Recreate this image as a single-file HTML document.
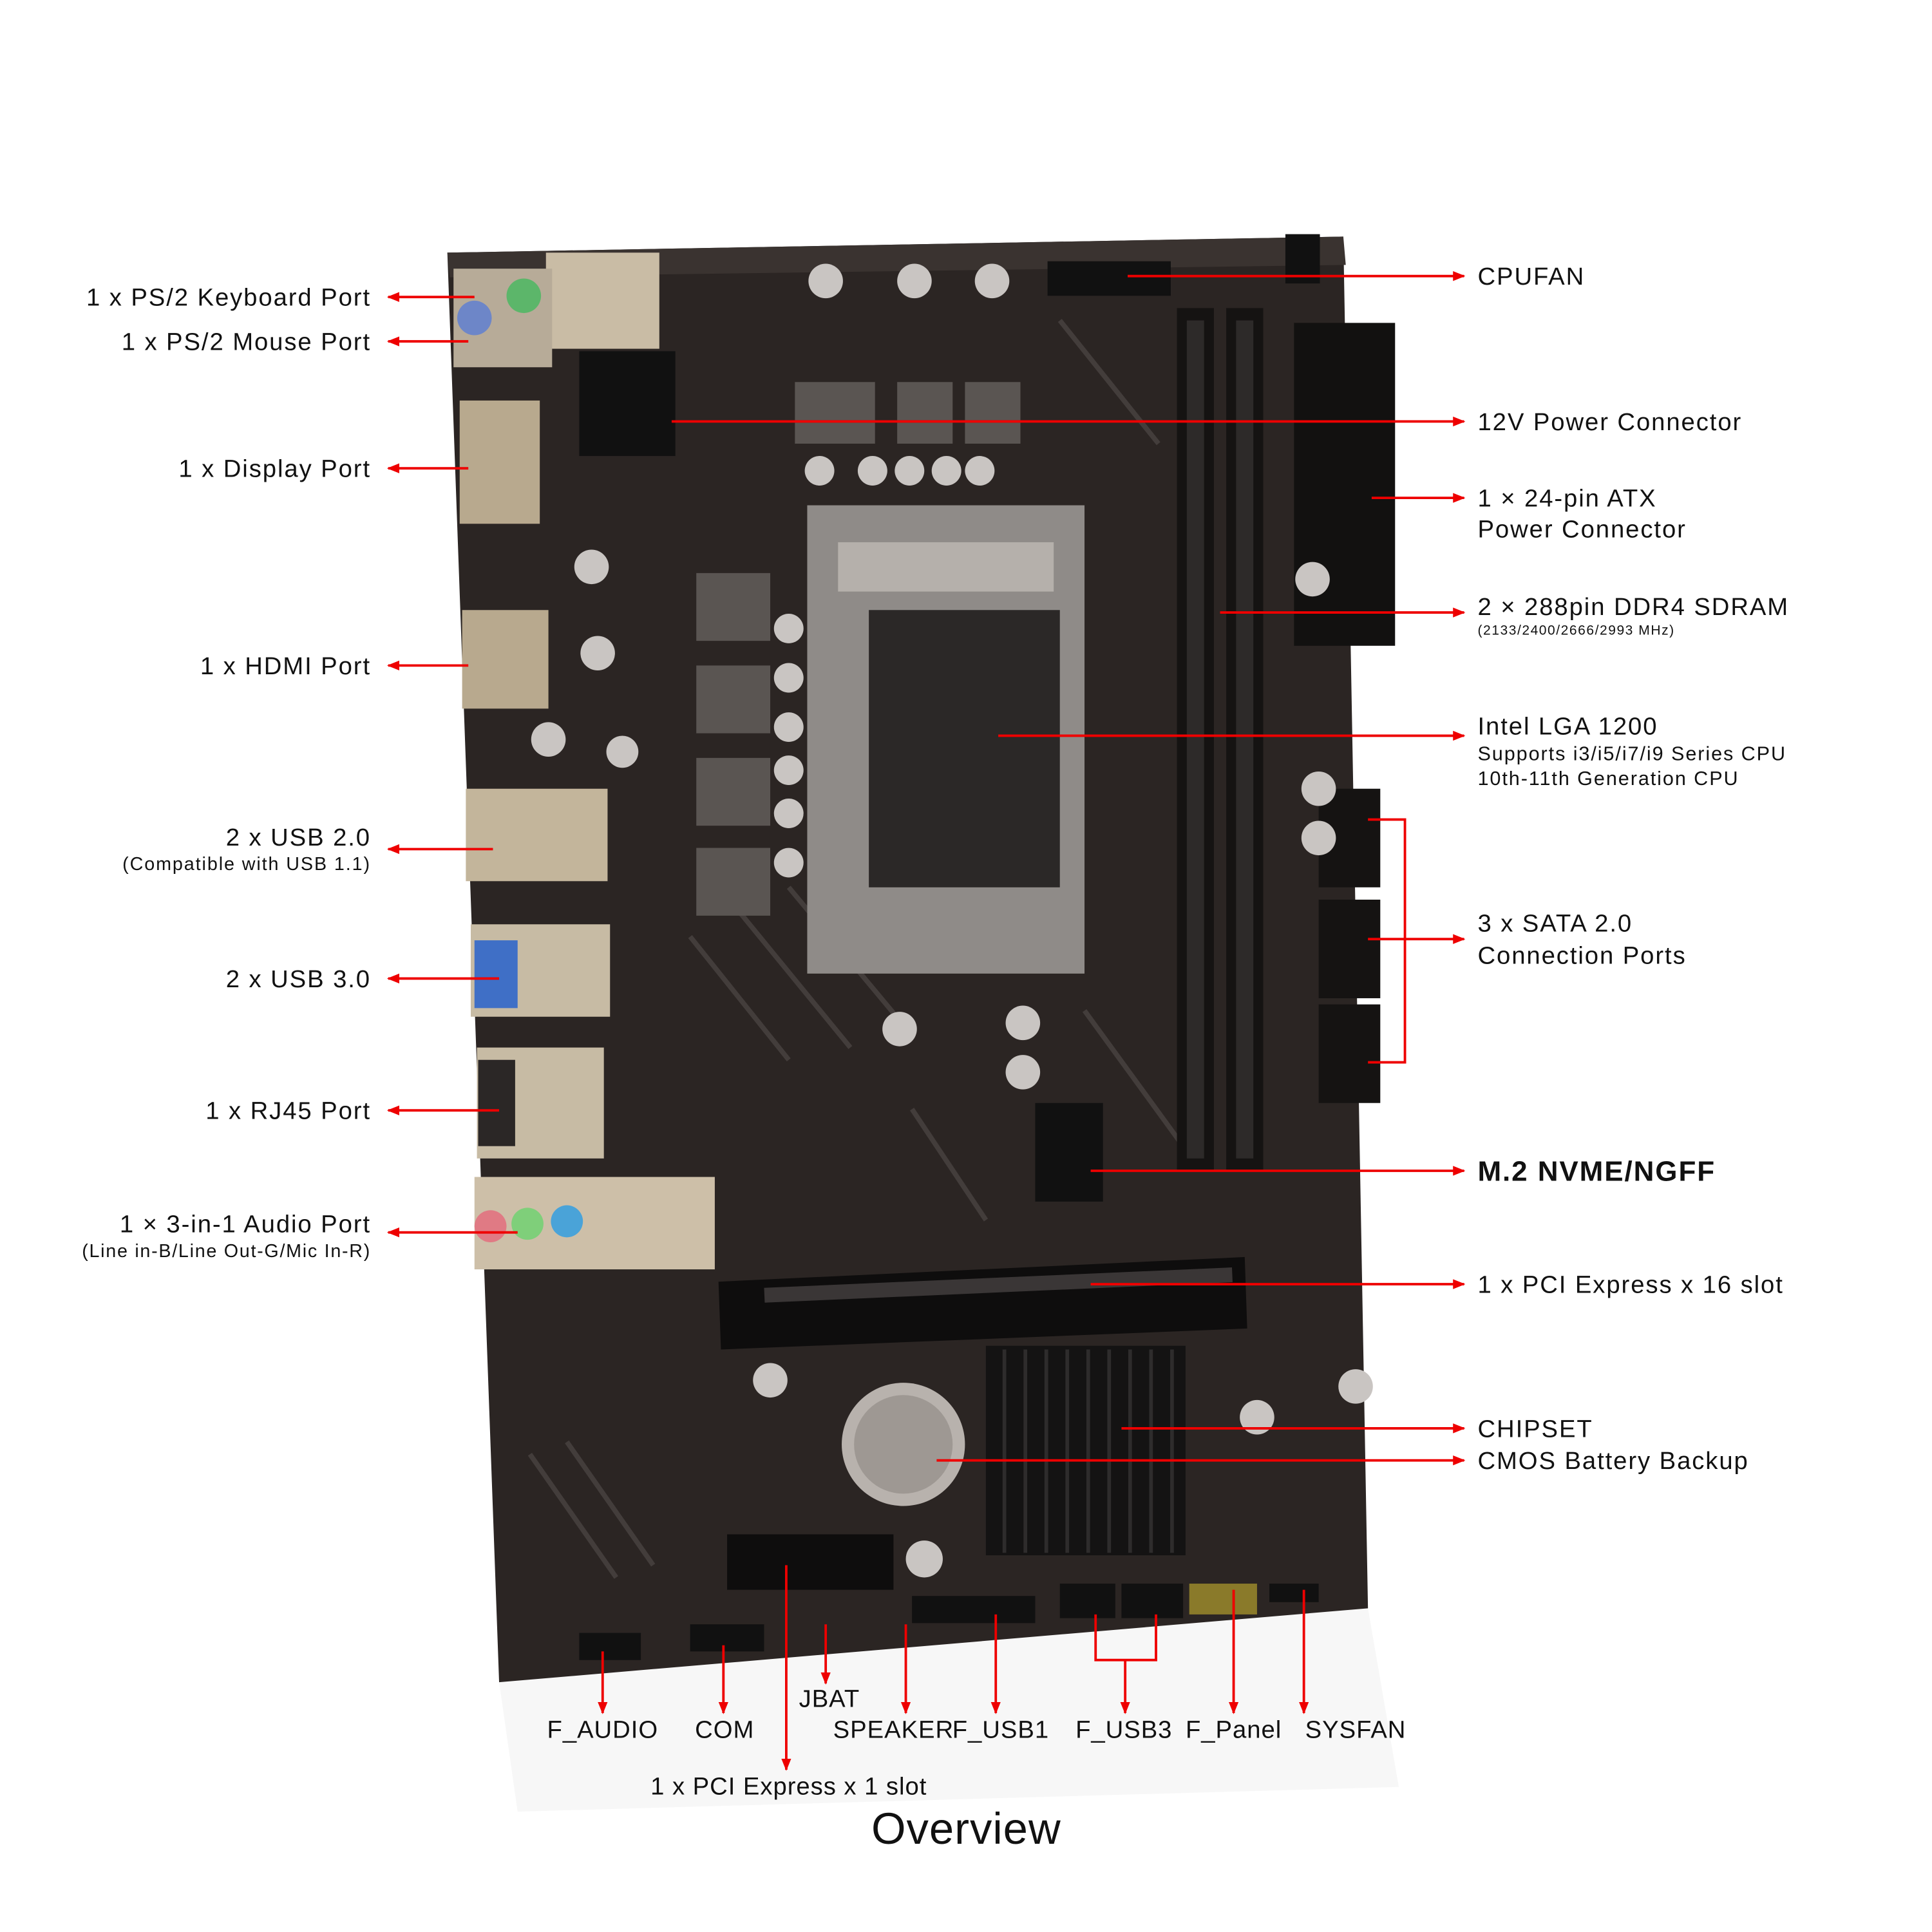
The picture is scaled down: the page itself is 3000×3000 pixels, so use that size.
<!DOCTYPE html>
<html><head><meta charset="utf-8">
<style>
html,body{margin:0;padding:0;background:#fff;}
svg{display:block;}
text{font-family:"Liberation Sans",sans-serif;fill:#111;letter-spacing:1px;}
.bt text{letter-spacing:0.5px;}
</style></head>
<body>
<svg width="3000" height="3000" viewBox="0 0 1552 1552" xmlns="http://www.w3.org/2000/svg">
<defs>
<marker id="b" viewBox="0 0 10 10" refX="9" refY="5" markerWidth="10" markerHeight="10" orient="auto" markerUnits="userSpaceOnUse">
<path d="M0,1 L10,5 L0,9 z" fill="#e00"/></marker>
</defs>
<rect width="1552" height="1552" fill="#fff"/>
<g transform="scale(0.99)">
<polygon points="405,1365 1110,1305 1135,1450 420,1470" fill="#f7f7f7"/>
<polygon points="363,205 1090,192 1110,1305 405,1365" fill="#2b2523"/>
<polygon points="363,205 1090,192 1092,215 365,225" fill="#3a3330"/>
<g stroke="#4a4442" stroke-width="4" opacity="0.8">
<line x1="560" y1="760" x2="640" y2="860"/><line x1="600" y1="740" x2="690" y2="850"/><line x1="640" y1="720" x2="740" y2="840"/>
<line x1="880" y1="820" x2="960" y2="930"/><line x1="860" y1="260" x2="940" y2="360"/>
<line x1="430" y1="1180" x2="500" y2="1280"/><line x1="460" y1="1170" x2="530" y2="1270"/>
<line x1="740" y1="900" x2="800" y2="990"/>
</g>
<rect x="955" y="250" width="30" height="700" fill="#151312"/>
<rect x="995" y="250" width="30" height="700" fill="#151312"/>
<rect x="963" y="260" width="14" height="680" fill="#2d2a29"/>
<rect x="1003" y="260" width="14" height="680" fill="#2d2a29"/>
<rect x="1050" y="262" width="82" height="262" fill="#121110"/>
<rect x="1070" y="640" width="50" height="80" fill="#151312"/>
<rect x="1070" y="730" width="50" height="80" fill="#151312"/>
<rect x="1070" y="815" width="50" height="80" fill="#151312"/>
<rect x="655" y="410" width="225" height="380" fill="#8f8b88"/>
<rect x="705" y="495" width="155" height="225" fill="#2b2827"/>
<rect x="680" y="440" width="175" height="40" fill="#b5b0ab"/>
<g fill="#5a5552">
<rect x="645" y="310" width="65" height="50"/><rect x="728" y="310" width="45" height="50"/><rect x="783" y="310" width="45" height="50"/>
<rect x="565" y="465" width="60" height="55"/><rect x="565" y="540" width="60" height="55"/><rect x="565" y="615" width="60" height="55"/><rect x="565" y="688" width="60" height="55"/>
</g>
<g fill="#c9c5c2">
<circle cx="670" cy="228" r="14"/><circle cx="742" cy="228" r="14"/><circle cx="805" cy="228" r="14"/>
<circle cx="665" cy="382" r="12"/><circle cx="708" cy="382" r="12"/><circle cx="738" cy="382" r="12"/><circle cx="768" cy="382" r="12"/><circle cx="795" cy="382" r="12"/>
<circle cx="640" cy="510" r="12"/><circle cx="640" cy="550" r="12"/><circle cx="640" cy="590" r="12"/><circle cx="640" cy="625" r="12"/><circle cx="640" cy="660" r="12"/><circle cx="640" cy="700" r="12"/>
<circle cx="480" cy="460" r="14"/><circle cx="485" cy="530" r="14"/><circle cx="445" cy="600" r="14"/><circle cx="505" cy="610" r="13"/>
<circle cx="730" cy="835" r="14"/><circle cx="830" cy="830" r="14"/><circle cx="830" cy="870" r="14"/>
<circle cx="1065" cy="470" r="14"/><circle cx="1070" cy="640" r="14"/><circle cx="1070" cy="680" r="14"/>
<circle cx="625" cy="1120" r="14"/><circle cx="750" cy="1265" r="15"/><circle cx="1100" cy="1125" r="14"/><circle cx="1020" cy="1150" r="14"/>
</g>
<polygon points="583,1040 1010,1020 1012,1078 585,1095" fill="#0e0d0d"/>
<rect x="620" y="1045" width="380" height="12" fill="#3a3636" transform="rotate(-2.5 620 1045)"/>
<rect x="590" y="1245" width="135" height="45" fill="#0e0d0d"/>
<rect x="800" y="1092" width="162" height="170" fill="#141313"/>
<g stroke="#2e2c2c" stroke-width="3">
<line x1="815" y1="1095" x2="815" y2="1260"/><line x1="832" y1="1095" x2="832" y2="1260"/><line x1="849" y1="1095" x2="849" y2="1260"/><line x1="866" y1="1095" x2="866" y2="1260"/><line x1="883" y1="1095" x2="883" y2="1260"/><line x1="900" y1="1095" x2="900" y2="1260"/><line x1="917" y1="1095" x2="917" y2="1260"/><line x1="934" y1="1095" x2="934" y2="1260"/><line x1="951" y1="1095" x2="951" y2="1260"/>
</g>
<circle cx="733" cy="1172" r="50" fill="#b8b2ad"/><circle cx="733" cy="1172" r="40" fill="#9e9893"/>
<rect x="840" y="895" width="55" height="80" fill="#111"/>
<g fill="#111">
<rect x="470" y="1325" width="50" height="22"/><rect x="560" y="1318" width="60" height="22"/>
<rect x="740" y="1295" width="100" height="22"/><rect x="860" y="1285" width="45" height="28"/><rect x="910" y="1285" width="50" height="28"/>
<rect x="965" y="1285" width="55" height="25" fill="#8a7a2a"/><rect x="1030" y="1285" width="40" height="15"/>
<rect x="850" y="212" width="100" height="28"/><rect x="1043" y="190" width="28" height="40"/>
<rect x="470" y="285" width="78" height="85"/>
</g>
<rect x="443" y="205" width="92" height="78" fill="#c9bca5"/>
<rect x="368" y="218" width="80" height="80" fill="#b7ab98"/>
<circle cx="385" cy="258" r="14" fill="#6d86c8"/><circle cx="425" cy="240" r="14" fill="#5cb66a"/>
<rect x="373" y="325" width="65" height="100" fill="#b8a98e"/>
<rect x="375" y="495" width="70" height="80" fill="#b8a98e"/>
<rect x="378" y="640" width="115" height="75" fill="#c3b59b"/>
<rect x="382" y="750" width="113" height="75" fill="#c7bba4"/>
<rect x="385" y="763" width="35" height="55" fill="#3f6fc6"/>
<rect x="387" y="850" width="103" height="90" fill="#c7bba4"/>
<rect x="388" y="860" width="30" height="70" fill="#2b2726"/>
<rect x="385" y="955" width="195" height="75" fill="#cdbfa8"/>
<circle cx="398" cy="995" r="13" fill="#e07a84"/><circle cx="428" cy="993" r="13" fill="#7fcf7a"/><circle cx="460" cy="991" r="13" fill="#4aa3d8"/>

<g stroke="#e00" stroke-width="2" fill="none">
<line x1="385" y1="241" x2="315" y2="241" marker-end="url(#b)"/>
<line x1="380" y1="277" x2="315" y2="277" marker-end="url(#b)"/>
<line x1="380" y1="380" x2="315" y2="380" marker-end="url(#b)"/>
<line x1="380" y1="540" x2="315" y2="540" marker-end="url(#b)"/>
<line x1="400" y1="689" x2="315" y2="689" marker-end="url(#b)"/>
<line x1="405" y1="794" x2="315" y2="794" marker-end="url(#b)"/>
<line x1="405" y1="901" x2="315" y2="901" marker-end="url(#b)"/>
<line x1="420" y1="1000" x2="315" y2="1000" marker-end="url(#b)"/>
<line x1="915" y1="224" x2="1188" y2="224" marker-end="url(#b)"/>
<line x1="545" y1="342" x2="1188" y2="342" marker-end="url(#b)"/>
<line x1="1113" y1="404" x2="1188" y2="404" marker-end="url(#b)"/>
<line x1="990" y1="497" x2="1188" y2="497" marker-end="url(#b)"/>
<line x1="810" y1="597" x2="1188" y2="597" marker-end="url(#b)"/>
<polyline points="1110,665 1140,665 1140,862 1110,862"/>
<line x1="1110" y1="762" x2="1140" y2="762"/>
<line x1="1140" y1="762" x2="1188" y2="762" marker-end="url(#b)"/>
<line x1="885" y1="950" x2="1188" y2="950" marker-end="url(#b)"/>
<line x1="885" y1="1042" x2="1188" y2="1042" marker-end="url(#b)"/>
<line x1="910" y1="1159" x2="1188" y2="1159" marker-end="url(#b)"/>
<line x1="760" y1="1185" x2="1188" y2="1185" marker-end="url(#b)"/>
<line x1="489" y1="1340" x2="489" y2="1390" marker-end="url(#b)"/>
<line x1="587" y1="1335" x2="587" y2="1390" marker-end="url(#b)"/>
<line x1="638" y1="1270" x2="638" y2="1436" marker-end="url(#b)"/>
<line x1="670" y1="1318" x2="670" y2="1366" marker-end="url(#b)"/>
<line x1="735" y1="1318" x2="735" y2="1390" marker-end="url(#b)"/>
<line x1="808" y1="1310" x2="808" y2="1390" marker-end="url(#b)"/>
<polyline points="889,1310 889,1347 938,1347 938,1310"/>
<line x1="913" y1="1347" x2="913" y2="1390" marker-end="url(#b)"/>
<line x1="1001" y1="1290" x2="1001" y2="1390" marker-end="url(#b)"/>
<line x1="1058" y1="1290" x2="1058" y2="1390" marker-end="url(#b)"/>
</g>

<g font-size="20" text-anchor="end">
<text x="301" y="248">1 x PS/2 Keyboard Port</text>
<text x="301" y="284">1 x PS/2 Mouse Port</text>
<text x="301" y="387">1 x Display Port</text>
<text x="301" y="547">1 x HDMI Port</text>
<text x="301" y="686">2 x USB 2.0</text>
<text x="301" y="706" font-size="15" style="letter-spacing:1px">(Compatible with USB 1.1)</text>
<text x="301" y="801">2 x USB 3.0</text>
<text x="301" y="908">1 x RJ45 Port</text>
<text x="301" y="1000">1 × 3-in-1 Audio Port</text>
<text x="301" y="1020" font-size="15" style="letter-spacing:0.9px">(Line in-B/Line Out-G/Mic In-R)</text>
</g>
<g font-size="20">
<text x="1199" y="231">CPUFAN</text>
<text x="1199" y="349">12V Power Connector</text>
<text x="1199" y="411">1 × 24-pin ATX</text>
<text x="1199" y="436">Power Connector</text>
<text x="1199" y="499">2 × 288pin DDR4 SDRAM</text>
<text x="1199" y="515" font-size="11" style="letter-spacing:0.8px">(2133/2400/2666/2993 MHz)</text>
<text x="1199" y="596">Intel LGA 1200</text>
<text x="1199" y="617" font-size="16">Supports i3/i5/i7/i9 Series CPU</text>
<text x="1199" y="637" font-size="16">10th-11th Generation CPU</text>
<text x="1199" y="756">3 x SATA 2.0</text>
<text x="1199" y="782">Connection Ports</text>
<text x="1199" y="958" font-size="23" font-weight="bold">M.2 NVME/NGFF</text>
<text x="1199" y="1049">1 x PCI Express x 16 slot</text>
<text x="1199" y="1166">CHIPSET</text>
<text x="1199" y="1192">CMOS Battery Backup</text>
</g>
<g font-size="20" text-anchor="middle" class="bt">
<text x="489" y="1410">F_AUDIO</text>
<text x="588" y="1410">COM</text>
<text x="673" y="1385">JBAT</text>
<text x="725" y="1410">SPEAKER</text>
<text x="812" y="1410">F_USB1</text>
<text x="912" y="1410">F_USB3</text>
<text x="1001" y="1410">F_Panel</text>
<text x="1100" y="1410">SYSFAN</text>
<text x="640" y="1456">1 x PCI Express x 1 slot</text>
<text x="784" y="1496" font-size="36">Overview</text>
</g>
</g>
</svg>
</body></html>
